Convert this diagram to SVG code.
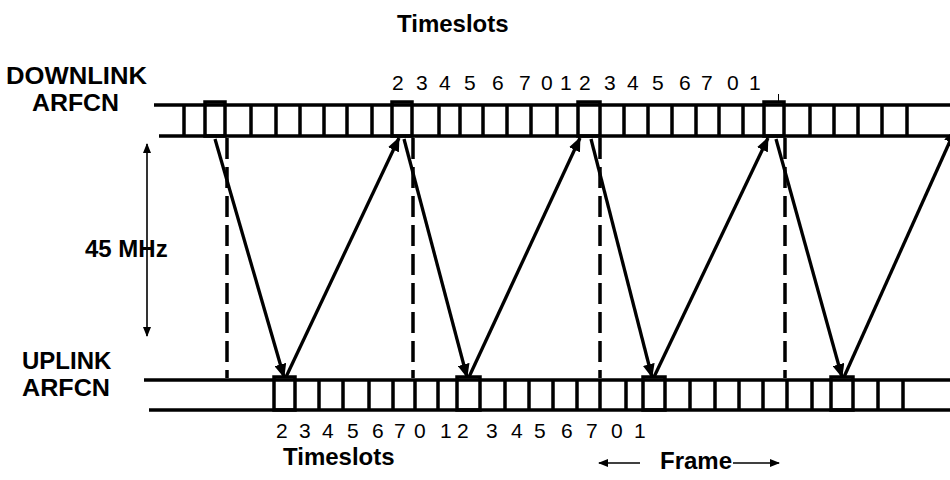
<svg xmlns="http://www.w3.org/2000/svg" width="950" height="480" viewBox="0 0 950 480">
  <style>
    .lbl { font-family: "Liberation Sans", Arial, sans-serif; font-weight: bold; font-size: 24px; fill: #000; }
    .num { font-family: "Liberation Sans", Arial, sans-serif; font-size: 21px; fill: #000; }
    .band { stroke: #000; stroke-width: 3.5; fill: none; }
    .slot { stroke: #000; stroke-width: 3.5; }
    .box { stroke: #000; stroke-width: 3.5; fill: none; }
    .dash { stroke: #000; stroke-width: 3.5; stroke-dasharray: 21 8; fill: none; }
    .hop { stroke: #000; stroke-width: 3.3; fill: none; marker-end: url(#head); }
    .thin { stroke: #000; stroke-width: 1.6; fill: none; }
  </style>
  <defs>
    <marker id="head" viewBox="0 0 14 12" refX="13" refY="6" markerWidth="14" markerHeight="12" markerUnits="userSpaceOnUse" orient="auto">
      <path d="M0,0 L14,6 L0,12 Z" fill="#000"/>
    </marker>
    <marker id="small" viewBox="0 0 10 8" refX="9" refY="4" markerWidth="10" markerHeight="8" markerUnits="userSpaceOnUse" orient="auto-start-reverse">
      <path d="M0,0 L10,4 L0,8 Z" fill="#000"/>
    </marker>
  </defs>

  <rect width="950" height="480" fill="#fff"/>

  <!-- headings and side labels -->
  <g id="title-top"><text class="lbl" x="397" y="32">Timeslots</text></g>
  <g id="label-downlink">
    <text class="lbl" x="6" y="84" textLength="141" lengthAdjust="spacingAndGlyphs">DOWNLINK</text>
    <text class="lbl" x="32" y="111" textLength="87" lengthAdjust="spacingAndGlyphs">ARFCN</text>
  </g>
  <g id="label-uplink">
    <text class="lbl" x="22" y="369">UPLINK</text>
    <text class="lbl" x="22" y="396" textLength="88" lengthAdjust="spacingAndGlyphs">ARFCN</text>
  </g>
  <g id="label-spacing"><text class="lbl" x="85" y="257">45 MHz</text></g>
  <g id="title-bottom"><text class="lbl" x="283" y="465">Timeslots</text></g>
  <g id="label-frame"><text class="lbl" x="660" y="469">Frame</text></g>

  <!-- timeslot numbers -->
  <g id="numbers-downlink">
    <text class="num" y="90"><tspan x="392">2</tspan> <tspan x="416">3</tspan> <tspan x="439">4</tspan> <tspan x="464">5</tspan> <tspan x="492">6</tspan> <tspan x="519">7</tspan> <tspan x="541">0</tspan> <tspan x="560">1</tspan> <tspan x="579">2</tspan> <tspan x="604">3</tspan> <tspan x="627">4</tspan> <tspan x="652">5</tspan> <tspan x="679">6</tspan> <tspan x="701">7</tspan> <tspan x="727">0</tspan> <tspan x="749">1</tspan></text>
  </g>
  <g id="numbers-uplink">
    <text class="num" y="438"><tspan x="276">2</tspan> <tspan x="299">3</tspan> <tspan x="322">4</tspan> <tspan x="347">5</tspan> <tspan x="372">6</tspan> <tspan x="394">7</tspan> <tspan x="414">0</tspan> <tspan x="440">1</tspan> <tspan x="457">2</tspan> <tspan x="486">3</tspan> <tspan x="511">4</tspan> <tspan x="534">5</tspan> <tspan x="561">6</tspan> <tspan x="586">7</tspan> <tspan x="611">0</tspan> <tspan x="634">1</tspan></text>
  </g>

  <!-- downlink carrier -->
  <g id="downlink">
    <line class="band" x1="154" y1="105" x2="950" y2="105"/>
    <line class="band" x1="159" y1="136" x2="950" y2="136"/>
    <path class="slot" d="M184,105V136 M251,105V136 M276,105V136 M300,105V136 M324,105V136 M347,105V136 M372,105V136 M439,105V136 M460,105V136 M483,105V136 M507,105V136 M531,105V136 M557,105V136 M624,105V136 M648,105V136 M672,105V136 M696,105V136 M719,105V136 M743,105V136 M810,105V136 M834,105V136 M858,105V136 M882,105V136 M907,105V136"/>
    <rect class="box" x="205" y="102" width="20" height="34"/>
    <rect class="box" x="392" y="102" width="20" height="34"/>
    <rect class="box" x="578" y="102" width="22" height="34"/>
    <rect class="box" x="764" y="102" width="20" height="34"/>
    <line x1="778.5" y1="94" x2="778.5" y2="101" stroke="#000" stroke-width="1"/>
  </g>

  <!-- uplink carrier -->
  <g id="uplink">
    <line class="band" x1="144" y1="380" x2="950" y2="380"/>
    <line class="band" x1="149" y1="410" x2="950" y2="410"/>
    <path class="slot" d="M319,380V410 M343,380V410 M369,380V410 M393,380V410 M415,380V410 M438,380V410 M505,380V410 M529,380V410 M553,380V410 M577,380V410 M600,380V410 M626,380V410 M690,380V410 M715,380V410 M739,380V410 M763,380V410 M787,380V410 M812,380V410 M878,380V410 M903,380V410"/>
    <rect class="box" x="274" y="377" width="21" height="33"/>
    <rect class="box" x="457" y="377" width="23" height="33"/>
    <rect class="box" x="643" y="377" width="22" height="33"/>
    <rect class="box" x="831" y="377" width="22" height="33"/>
  </g>

  <g id="connectors">
    <!-- frame boundaries -->
    <line class="dash" x1="227" y1="138" x2="227" y2="378"/>
    <line class="dash" x1="413" y1="138" x2="413" y2="378"/>
    <line class="dash" x1="600" y1="138" x2="600" y2="378"/>
    <line class="dash" x1="785" y1="138" x2="785" y2="378"/>
    <!-- downlink / uplink hops -->
    <line class="hop" x1="215" y1="139" x2="284" y2="377"/>
    <line class="hop" x1="286" y1="377" x2="399" y2="138"/>
    <line class="hop" x1="404" y1="139" x2="467" y2="377"/>
    <line class="hop" x1="469" y1="377" x2="580" y2="138"/>
    <line class="hop" x1="591" y1="139" x2="652" y2="377"/>
    <line class="hop" x1="654" y1="377" x2="768" y2="138"/>
    <line class="hop" x1="776" y1="139" x2="842" y2="377"/>
    <line class="hop" x1="844" y1="377" x2="955" y2="130"/>
    <!-- duplex spacing -->
    <line class="thin" x1="147" y1="144" x2="147" y2="336" marker-start="url(#small)" marker-end="url(#small)"/>
    <!-- frame span -->
    <line class="thin" x1="640" y1="463" x2="599" y2="463" marker-end="url(#small)"/>
    <line class="thin" x1="733" y1="463" x2="779" y2="463" marker-end="url(#small)"/>
  </g>
</svg>
